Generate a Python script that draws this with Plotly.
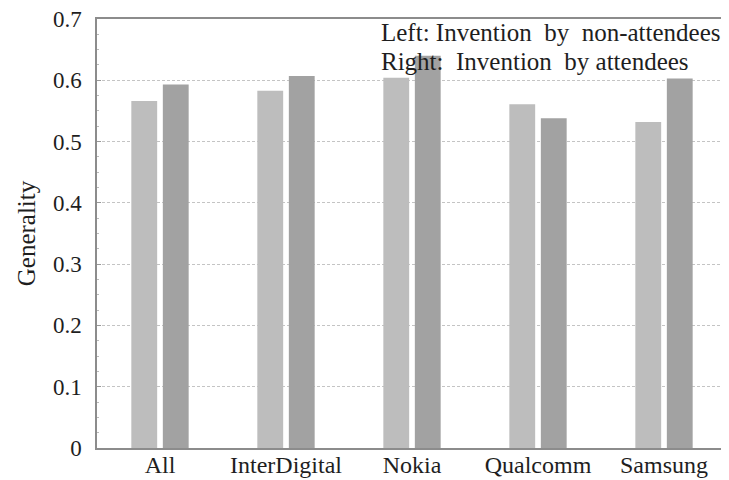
import plotly.graph_objects as go

categories = ["All", "InterDigital", "Nokia", "Qualcomm", "Samsung"]
non_attendees = [0.566, 0.583, 0.604, 0.561, 0.532]
attendees = [0.593, 0.607, 0.640, 0.538, 0.603]
y_ticks = [0, 0.1, 0.2, 0.3, 0.4, 0.5, 0.6, 0.7]
y_tick_labels = ["0", "0.1", "0.2", "0.3", "0.4", "0.5", "0.6", "0.7"]

FONT = "Liberation Serif"
TXT = "#1e1e1e"

fig = go.Figure()
fig.add_trace(go.Bar(x=categories, y=non_attendees, name="Invention by non-attendees",
                     marker=dict(color="#bdbdbd", line=dict(width=0))))
fig.add_trace(go.Bar(x=categories, y=attendees, name="Invention by attendees",
                     marker=dict(color="#a2a2a2", line=dict(width=0))))

fig.update_layout(
    width=721, height=472,
    margin=dict(l=89, r=2, t=11, b=32, autoexpand=False),
    paper_bgcolor="white", plot_bgcolor="white",
    barmode="group", bargap=0.5, bargroupgap=0.18,
    showlegend=False,
    font=dict(family=FONT, size=22, color=TXT),
)
fig.update_xaxes(
    showline=True, linecolor="#8c8c8c", linewidth=1.5, mirror=True,
    showgrid=False, ticks="", ticklabelstandoff=-6, ticklabeloverflow="allow",
    tickfont=dict(family=FONT, size=24, color=TXT),
)
fig.update_yaxes(
    range=[0, 0.7], tickvals=y_ticks, ticktext=y_tick_labels,
    showline=True, linecolor="#8c8c8c", linewidth=1.5, mirror=True,
    showgrid=True, gridcolor="#c4c4c4", griddash="3px,2px", gridwidth=1,
    zeroline=False,
    ticks="inside", ticklen=4, tickcolor="#999999",
    minor=dict(ticks="inside", ticklen=2, tickcolor="#bbbbbb", dtick=0.025, showgrid=False),
    ticklabelstandoff=9, ticklabeloverflow="allow",
    tickfont=dict(family=FONT, size=23, color=TXT),
    title=dict(text="Generality", font=dict(family=FONT, size=25, color=TXT), standoff=10),
)

fig.add_annotation(text="Left: Invention\u00a0 by\u00a0 non-attendees", xref="paper", yref="paper",
                   x=0.447, y=0.968, xanchor="left", yanchor="middle", showarrow=False,
                   font=dict(family=FONT, size=25, color=TXT))
fig.add_annotation(text="Right:\u00a0 Invention\u00a0 by attendees", xref="paper", yref="paper",
                   x=0.447, y=0.900, xanchor="left", yanchor="middle", showarrow=False,
                   font=dict(family=FONT, size=25, color=TXT))

fig.write_html("out.html")
